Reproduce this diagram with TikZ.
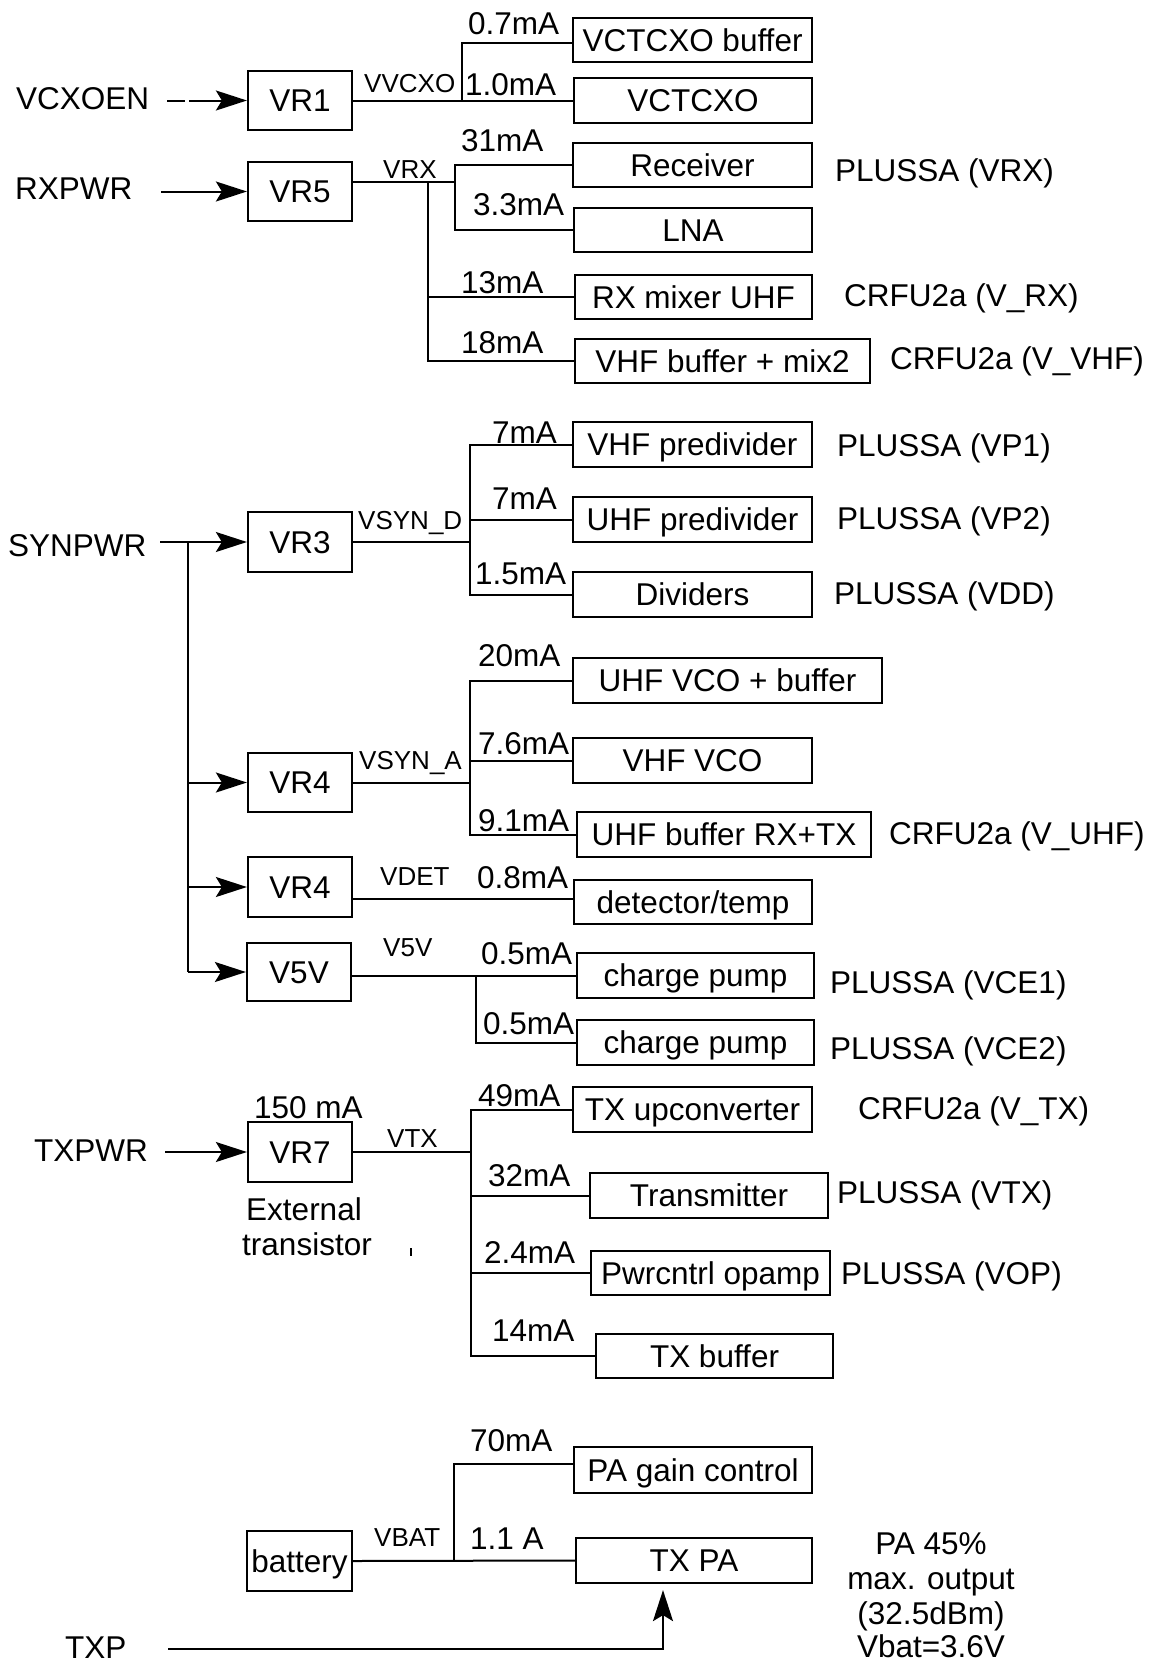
\documentclass[tikz,border=0pt]{standalone}
\usepackage{fontspec}
\setmainfont{Liberation Sans}
\usetikzlibrary{arrows.meta}
\begin{document}
\begin{tikzpicture}[x=1pt,y=-1pt,
  box/.style={draw, line width=2.2pt, inner sep=0pt, font=\fontsize{31.5}{36}\selectfont, text height=22.6pt, text depth=0pt},
  lbl/.style={inner sep=0pt, anchor=base west, font=\fontsize{31.5}{36}\selectfont},
  clbl/.style={inner sep=0pt, anchor=base, font=\fontsize{31.5}{36}\selectfont},
  slbl/.style={inner sep=0pt, anchor=base west, font=\fontsize{26}{30}\selectfont},
  wire/.style={line width=2pt},
  arr/.style={line width=2pt, -{Stealth[length=31pt,width=20pt,inset=6pt]}},
]
\useasboundingbox[fill=white] (0,0) rectangle (1157,1663);

% regulator boxes
\node[box, minimum width=104pt, minimum height=59pt] (VR1) at (300,100.5) {VR1};
\node[box, minimum width=104pt, minimum height=59pt] (VR5) at (300,191.5) {VR5};
\node[box, minimum width=104pt, minimum height=60pt] (VR3) at (300,542) {VR3};
\node[box, minimum width=104pt, minimum height=59pt] (VR4a) at (300,782.5) {VR4};
\node[box, minimum width=104pt, minimum height=60pt] (VR4b) at (300,887) {VR4};
\node[box, minimum width=104pt, minimum height=58pt] (V5V) at (299,972) {V5V};
\node[box, minimum width=104pt, minimum height=60pt] (VR7) at (300,1152) {VR7};
\node[box, minimum width=105pt, minimum height=60pt] (battery) at (299.5,1561) {battery};

% load boxes
\node[box, minimum width=239pt, minimum height=44pt] (VCTCXObuf) at (692.5,40) {VCTCXO buffer};
\node[box, minimum width=238pt, minimum height=45pt] (VCTCXO) at (693,100.5) {VCTCXO};
\node[box, minimum width=239pt, minimum height=44pt] (Receiver) at (692.5,165) {Receiver};
\node[box, minimum width=238pt, minimum height=44pt] (LNA) at (693,230) {LNA};
\node[box, minimum width=237pt, minimum height=44pt] (RXmixer) at (693.5,297) {RX mixer UHF};
\node[box, minimum width=295pt, minimum height=44pt] (VHFbuf) at (722.5,361) {VHF buffer + mix2};
\node[box, minimum width=239pt, minimum height=45pt] (VHFpre) at (692.5,444.5) {VHF predivider};
\node[box, minimum width=239pt, minimum height=45pt] (UHFpre) at (692.5,519.5) {UHF predivider};
\node[box, minimum width=239pt, minimum height=45pt] (Dividers) at (692.5,594.5) {Dividers};
\node[box, minimum width=309pt, minimum height=45pt] (UHFVCO) at (727.5,680.5) {UHF VCO + buffer};
\node[box, minimum width=239pt, minimum height=45pt] (VHFVCO) at (692.5,760.5) {VHF VCO};
\node[box, minimum width=294pt, minimum height=45pt] (UHFbuf) at (724,834.5) {UHF buffer RX+TX};
\node[box, minimum width=238pt, minimum height=44pt] (Detector) at (693,902) {detector/temp};
\node[box, minimum width=237pt, minimum height=45pt] (CP1) at (695.5,975.5) {charge pump};
\node[box, minimum width=237pt, minimum height=45pt] (CP2) at (695.5,1042.5) {charge pump};
\node[box, minimum width=239pt, minimum height=45pt] (TXup) at (692.5,1109.5) {TX upconverter};
\node[box, minimum width=238pt, minimum height=45pt] (Transmitter) at (709,1195.5) {Transmitter};
\node[box, minimum width=239pt, minimum height=44pt] (Pwrcntrl) at (710.5,1273) {Pwrcntrl opamp};
\node[box, minimum width=237pt, minimum height=44pt] (TXbuffer) at (714.5,1356) {TX buffer};
\node[box, minimum width=238pt, minimum height=46pt] (PAgain) at (693,1470) {PA gain control};
\node[box, minimum width=236pt, minimum height=45pt] (TXPA) at (694,1560.5) {TX PA};

% input labels
\node[lbl] (lVCXOEN) at (16,109) {VCXOEN};
\node[lbl] (lRXPWR) at (15,199) {RXPWR};
\node[lbl] (lSYNPWR) at (8,556) {SYNPWR};
\node[lbl] (lTXPWR) at (34,1161) {TXPWR};
\node[lbl] (lTXP) at (65,1658) {TXP};

% current labels
\node[lbl] (c1) at (468,34) {0.7mA};
\node[lbl] (c2) at (465,95) {1.0mA};
\node[lbl] (c3) at (461,151) {31mA};
\node[lbl] (c4) at (473,215) {3.3mA};
\node[lbl] (c5) at (461,293) {13mA};
\node[lbl] (c6) at (461,353) {18mA};
\node[lbl] (c7) at (492,443) {7mA};
\node[lbl] (c8) at (492,509) {7mA};
\node[lbl] (c9) at (475,584) {1.5mA};
\node[lbl] (c10) at (478,666) {20mA};
\node[lbl] (c11) at (478,754) {7.6mA};
\node[lbl] (c12) at (478,831) {9.1mA};
\node[lbl] (c13) at (477,888) {0.8mA};
\node[lbl] (c14) at (481,964) {0.5mA};
\node[lbl] (c15) at (483,1034) {0.5mA};
\node[lbl] (c16) at (254,1118) {150 mA};
\node[lbl] (c17) at (478,1106) {49mA};
\node[lbl] (c18) at (488,1186) {32mA};
\node[lbl] (c19) at (484,1263) {2.4mA};
\node[lbl] (c20) at (492,1341) {14mA};
\node[lbl] (c21) at (470,1451) {70mA};
\node[lbl] (c22) at (470,1549) {1.1 A};

% rail labels
\node[slbl] (rVVCXO) at (364,92) {VVCXO};
\node[slbl] (rVRX) at (383,178) {VRX};
\node[slbl] (rVSYND) at (358,529) {VSYN\_D};
\node[slbl] (rVSYNA) at (359,769) {VSYN\_A};
\node[slbl] (rVDET) at (380,885) {VDET};
\node[slbl] (rV5V) at (383,956) {V5V};
\node[slbl] (rVTX) at (387,1147) {VTX};
\node[slbl] (rVBAT) at (374,1546) {VBAT};

% side labels
\node[lbl] (s1) at (835,181) {PLUSSA (VRX)};
\node[lbl] (s2) at (844,306) {CRFU2a (V\_RX)};
\node[lbl] (s3) at (890,369) {CRFU2a (V\_VHF)};
\node[lbl] (s4) at (837,456) {PLUSSA (VP1)};
\node[lbl] (s5) at (837,529) {PLUSSA (VP2)};
\node[lbl] (s6) at (834,604) {PLUSSA (VDD)};
\node[lbl] (s7) at (889,844) {CRFU2a (V\_UHF)};
\node[lbl] (s8) at (830,993) {PLUSSA (VCE1)};
\node[lbl] (s9) at (830,1059) {PLUSSA (VCE2)};
\node[lbl] (s10) at (858,1119) {CRFU2a (V\_TX)};
\node[lbl] (s11) at (837,1203) {PLUSSA (VTX)};
\node[lbl] (s12) at (841,1284) {PLUSSA (VOP)};
\node[clbl] (ext1) at (304,1220) {External};
\node[clbl] (ext2) at (307,1255) {transistor};
\node[clbl] (pa1) at (931,1554) {PA 45\%};
\node[clbl] (pa2) at (931,1589) {max. output};
\node[clbl] (pa3) at (931,1624) {(32.5dBm)};
\node[clbl] (pa4) at (931,1657) {Vbat=3.6V};

% input arrows
\coordinate (sVCXOEN) at (167,100.5);
\draw[arr, dash pattern=on 18pt off 4pt on 300pt off 0pt] (sVCXOEN) -- (VR1.west);
\coordinate (sRX) at (161,191.5);
\draw[arr] (sRX) -- (VR5.west);
\coordinate (sSYN) at (160,542);
\coordinate (jS) at (188,542);
\draw[wire] (sSYN) -- (jS);
\draw[arr] (jS) -- (VR3.west);
\draw[wire] (jS) -- (jS |- V5V.west);
\draw[arr] (jS |- VR4a.west) -- (VR4a.west);
\draw[arr] (jS |- VR4b.west) -- (VR4b.west);
\draw[arr] (jS |- V5V.west) -- (V5V.west);
\coordinate (sTXPWR) at (165,1152);
\draw[arr] (sTXPWR) -- (VR7.west);
\coordinate (sTXP) at (168,1649);
\draw[arr] (sTXP) -| ([xshift=-31pt,yshift=-6pt]TXPA.south);

% VR1 rail
\coordinate (j1) at (462,100.5);
\draw[wire] (VR1.east) -- (VCTCXO.west);
\draw[wire] (j1) |- ([yshift=-3pt]VCTCXObuf.west);

% VR5 rail
\coordinate (j5) at (455,182);
\coordinate (j5b) at (428,182);
\draw[wire] (VR5.east |- j5) -- (j5);
\draw[wire] (j5) |- (Receiver.west);
\draw[wire] (j5) |- (LNA.west);
\draw[wire] (j5b) |- (RXmixer.west);
\draw[wire] (j5b) |- (VHFbuf.west);

% VR3 rail
\coordinate (j3) at (470,542);
\draw[wire] (VR3.east) -- (j3);
\draw[wire] (j3) |- (VHFpre.west);
\draw[wire] (j3) |- (UHFpre.west);
\draw[wire] (j3) |- (Dividers.west);

% VR4 (VSYN_A) rail
\coordinate (j4) at (470,782.5);
\draw[wire] (VR4a.east) -- (j4);
\draw[wire] (j4) |- (UHFVCO.west);
\draw[wire] (j4) |- (VHFVCO.west);
\draw[wire] (j4) |- (UHFbuf.west);

% VDET rail
\draw[wire] ([yshift=3pt]VR4b.east |- Detector.west) -- ([yshift=3pt]Detector.west);

% V5V rail
\draw[wire] (V5V.east |- CP1.west) -- (CP1.west);
\coordinate (j5v) at (476,977);
\draw[wire] (j5v) |- (CP2.west);

% VTX rail
\coordinate (j7) at (471,1152);
\draw[wire] (VR7.east) -- (j7);
\draw[wire] (j7) |- (TXup.west);
\draw[wire] (j7) |- (Transmitter.west);
\draw[wire] (j7) |- (Pwrcntrl.west);
\draw[wire] (j7) |- (TXbuffer.west);
\draw[wire] (411,1248) -- (411,1256);

% VBAT rail
\coordinate (jb) at (454,1561);
\draw[wire] (battery.east) -- (TXPA.west);
\draw[wire] (jb) |- ([yshift=6pt]PAgain.west);
\end{tikzpicture}
\end{document}
